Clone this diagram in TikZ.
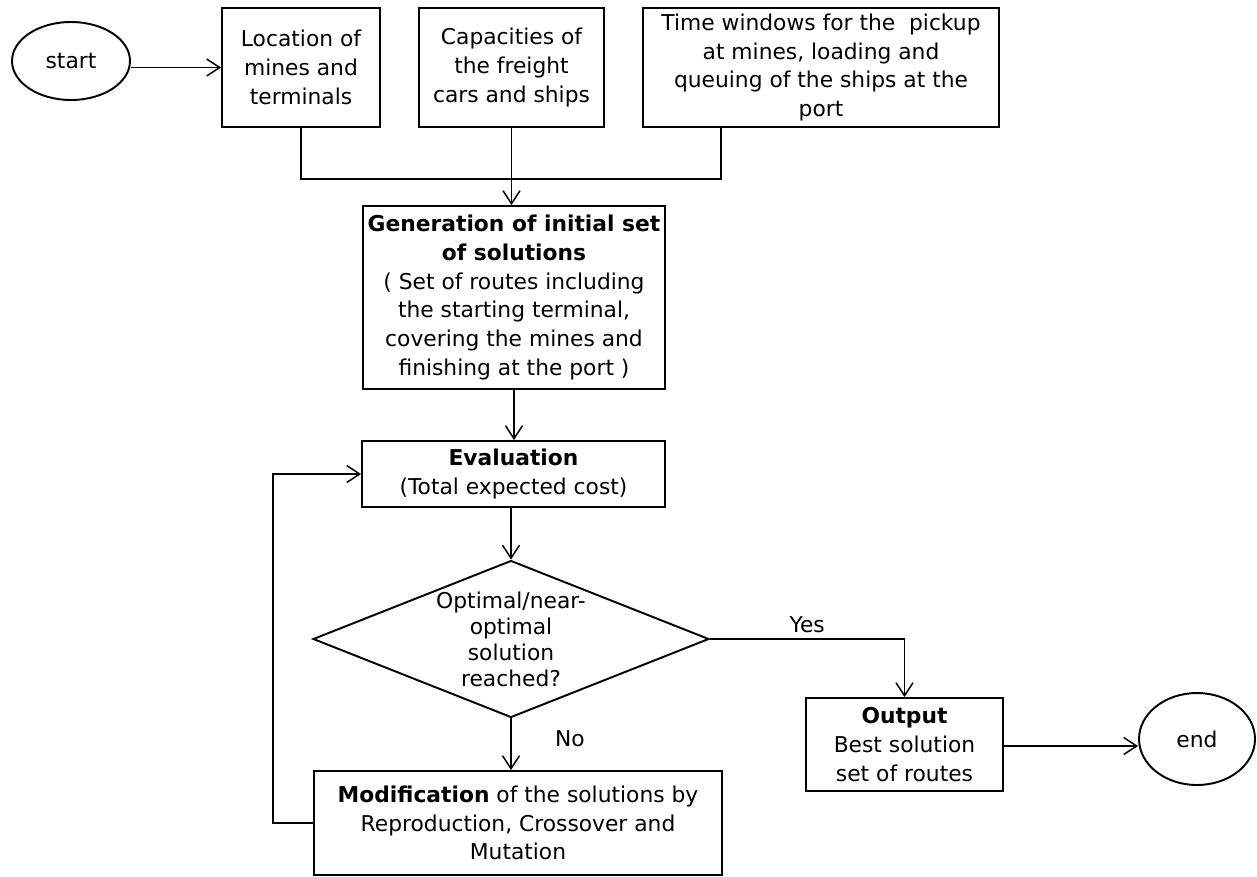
\documentclass[tikz,border=0pt]{standalone}
\usepackage{fontspec}
\setmainfont{DejaVu Sans}
\usepackage{tikz}
\usetikzlibrary{shapes.geometric}
\usetikzlibrary{arrows.meta}

\begin{document}
\begin{tikzpicture}[x=0.02cm,y=-0.02cm,
  every node/.style={font=\fontsize{12.4}{16.4}\selectfont},
  boite/.style={draw,line width=1.1pt,rectangle,align=center,inner sep=2pt},
  bulle/.style={draw,line width=1.1pt,ellipse,inner sep=0pt},
  losange/.style={draw,line width=1.1pt,diamond,minimum width=7.92cm,minimum height=3.14cm,inner sep=0pt},
  fleche/.style={line width=0.85pt,-{Straight Barb[length=2.6mm,width=3.4mm]}},
  trait/.style={line width=0.85pt}]
\useasboundingbox (0,0) rectangle (1257,876);

% donnees
\node[bulle,minimum width=2.36cm,minimum height=1.56cm] (start) at (71,61) {start};
\node[boite,minimum width=3.16cm,minimum height=2.38cm] (loc) at (301,67.5) {Location of\\mines and\\terminals};
\node[boite,minimum width=3.70cm,minimum height=2.38cm] (cap) at (511.5,67.5) {Capacities of\\the freight\\cars and ships};
\node[boite,minimum width=7.12cm,minimum height=2.38cm] (win) at (821,67.5) {Time windows for the\ \ pickup\\at mines, loading and\\queuing of the ships at the\\port};
\coordinate (windown) at (721,127);

% algorithme
\node[boite,minimum width=6.04cm,minimum height=3.66cm] (gen) at (514,297.5) {\textbf{Generation of initial set}\\\textbf{of solutions}\\( Set of routes including\\the starting terminal,\\covering the mines and\\finishing at the port )};
\node[boite,minimum width=6.06cm,minimum height=1.32cm] (eval) at (513.5,474) {\textbf{Evaluation}\\(Total expected cost)};
\node[losange,label={[align=center,font=\fontsize{12.4}{14.8}\selectfont]center:Optimal/near-\\optimal\\solution\\reached?}] (dec) at (511,639) {};
\node[boite,minimum width=8.16cm,minimum height=2.08cm] (mod) at (518,823) {\textbf{Modification} of the solutions by\\Reproduction, Crossover and\\Mutation};
\node[boite,minimum width=3.94cm,minimum height=1.86cm] (out) at (904.5,744.5) {\textbf{Output}\\Best solution\\set of routes};
\node[bulle,minimum width=2.32cm,minimum height=1.84cm] (end) at (1197,739) {end};

% liaisons
\draw[fleche] (start.east |- loc.west) -- (loc.west);
\draw[trait] (loc.south) |- (windown |- 0,179) -- (windown);
\draw[fleche] (cap.south) -- (cap.south |- gen.north);
\draw[fleche] (gen.south) -- (gen.south |- eval.north);
\draw[fleche] (eval.south -| dec.north) -- (dec.north);
\draw[fleche] (dec.east) -| (out.north) node[pos=0.25,above] {Yes};
\draw[fleche] (dec.south) -- (dec.south |- mod.north) node[pos=0.4,right=0.75cm] {No};
\draw[fleche] (mod.west) -- ++(-40,0) |- (eval.west);
\draw[fleche] (out.east |- 0,746) -- (end.west |- 0,746);
\end{tikzpicture}
\end{document}
